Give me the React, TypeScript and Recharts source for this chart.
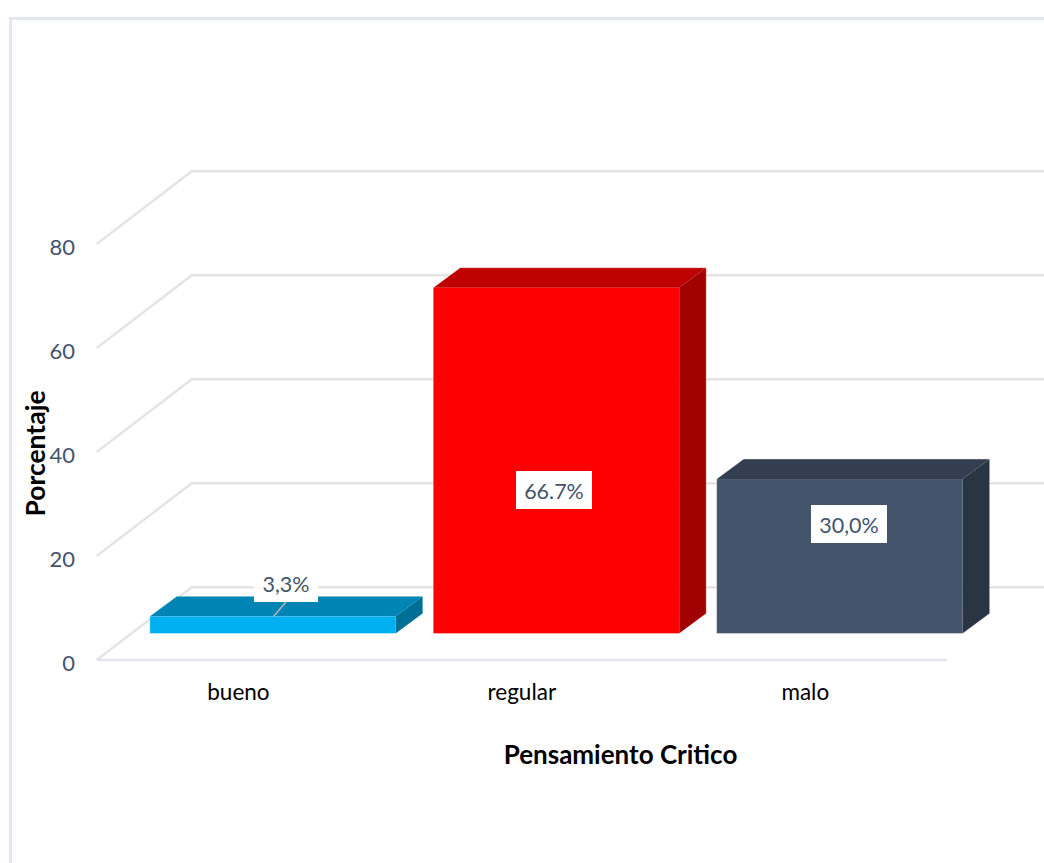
import { Bar, BarChart, CartesianGrid, LabelList, XAxis, YAxis } from "recharts";

const categories = ["bueno", "regular", "malo"];
const percentages = [3.3, 66.5, 29.7];
const valueLabels = ["3,3%", "66.7%", "30,0%"];
const yTicks = [0, 20, 40, 60, 80];

const frontColors = ["#00B0F0", "#FF0000", "#44546A"];
const topColors = ["#0084B4", "#BF0000", "#333F50"];
const sideColors = ["#006F97", "#A00000", "#2A3543"];

// hand-moved labels, centre of the white box
const labelCenters = [
  { x: 286, y: 583 },
  { x: 554, y: 490 },
  { x: 849, y: 524 },
];

const data = categories.map((name, i) => ({ name, value: percentages[i] }));

const FONT = "Lato, 'Open Sans', sans-serif";
const SLATE = "#44546A";

// depth of the bars
const DX = 27;
const DY = 20;
// front and back of the floor, relative to the plane the bars stand on
const FRONT_X = -34.5;
const FRONT_Y = 26.5;
const BACK_X = 60.5;
const BACK_Y = -46.3;

function Bar3D(props: any) {
  const { x, y, width, height, index } = props;
  const r = x + width;
  const b = y + height;
  return (
    <g>
      <polygon points={`${x},${y} ${x + DX},${y - DY} ${r + DX},${y - DY} ${r},${y}`} fill={topColors[index]} />
      <polygon points={`${r},${y} ${r + DX},${y - DY} ${r + DX},${b - DY} ${r},${b}`} fill={sideColors[index]} />
      <rect x={x} y={y} width={width} height={height} fill={frontColors[index]} />
      <path
        d={`M${x},${y} L${x + DX},${y - DY} L${r + DX},${y - DY} L${r + DX},${b - DY} L${r},${b} L${x},${b} Z`}
        fill="none"
        stroke="#fff"
        strokeOpacity={0.35}
        strokeWidth={1}
      />
    </g>
  );
}

function GridLine(props: any) {
  const { x1, x2, y1, index } = props;
  const isFloor = y1 > 630;
  return (
    <g key={index}>
      <polyline
        points={`${x1 + FRONT_X},${y1 + FRONT_Y} ${x1 + BACK_X},${y1 + BACK_Y} 1044,${y1 + BACK_Y}`}
        fill="none"
        stroke="#E4E4E4"
        strokeWidth={2.5}
      />
      {isFloor && (
        <line x1={x1 + FRONT_X} x2={x2 + FRONT_X} y1={y1 + FRONT_Y} y2={y1 + FRONT_Y} stroke="#E2E5EB" strokeWidth={2.5} />
      )}
    </g>
  );
}

function YTick(props: any) {
  const { y, payload } = props;
  return (
    <text x={75} y={y + FRONT_Y + 10.5} textAnchor="end" fontFamily={FONT} fontSize={22} fill={SLATE}>
      {payload.value}
    </text>
  );
}

function XTick(props: any) {
  const { x, payload } = props;
  return (
    <text x={x + FRONT_X} y={700} textAnchor="middle" fontFamily={FONT} fontSize={22.5} fill="#000">
      {payload.value}
    </text>
  );
}

function ValueLabel(props: any) {
  const { index } = props;
  const c = labelCenters[index];
  const w = index === 0 ? 64 : 76;
  const leader = index === 0;
  return (
    <g>
      {leader && <line x1={273.5} y1={616.5} x2={286} y2={602} stroke="#B5B5B5" strokeWidth={1.5} />}
      <rect x={c.x - w / 2} y={c.y - 19} width={w} height={38} fill="#fff" />
      <text x={c.x} y={c.y + 9} textAnchor="middle" fontFamily={FONT} fontSize={21.5} fill={SLATE}>
        {valueLabels[index]}
      </text>
    </g>
  );
}

export default function App() {
  return (
    <div style={{ position: "absolute", left: 0, top: 0, width: 1044, height: 863, background: "#fff" }}>
      <div
        style={{
          position: "absolute",
          left: 9,
          top: 17,
          right: 0,
          bottom: 0,
          borderLeft: "3px solid #E3E8F0",
          borderTop: "3px solid #E3E8F0",
        }}
      />
      <BarChart
        width={1044}
        height={863}
        data={data}
        margin={{ top: 217.5, right: 62.5, bottom: 169.5, left: 71.2 }}
        barCategoryGap={18.6}
        style={{ position: "absolute", left: 0, top: 0 }}
      >
        <CartesianGrid vertical={false} horizontal={GridLine} />
        <XAxis
          dataKey="name"
          height={60}
          axisLine={false}
          tickLine={false}
          tick={XTick}
          label={{
            value: "Pensamiento Critico",
            content: () => (
              <text x={620.5} y={764} textAnchor="middle" fontFamily={FONT} fontSize={26} fontWeight={700} fill="#000">
                Pensamiento Critico
              </text>
            ),
          }}
        />
        <YAxis
          width={60}
          domain={[0, 80]}
          ticks={yTicks}
          axisLine={false}
          tickLine={false}
          tick={YTick}
          label={{
            value: "Porcentaje",
            content: () => (
              <text
                x={0}
                y={0}
                transform="translate(45 453.5) rotate(-90)"
                textAnchor="middle"
                fontFamily={FONT}
                fontSize={26.5}
                fontWeight={700}
                fill="#000"
              >
                Porcentaje
              </text>
            ),
          }}
        />
        <Bar dataKey="value" shape={Bar3D} isAnimationActive={false}>
          <LabelList dataKey="value" content={ValueLabel} />
        </Bar>
      </BarChart>
    </div>
  );
}
